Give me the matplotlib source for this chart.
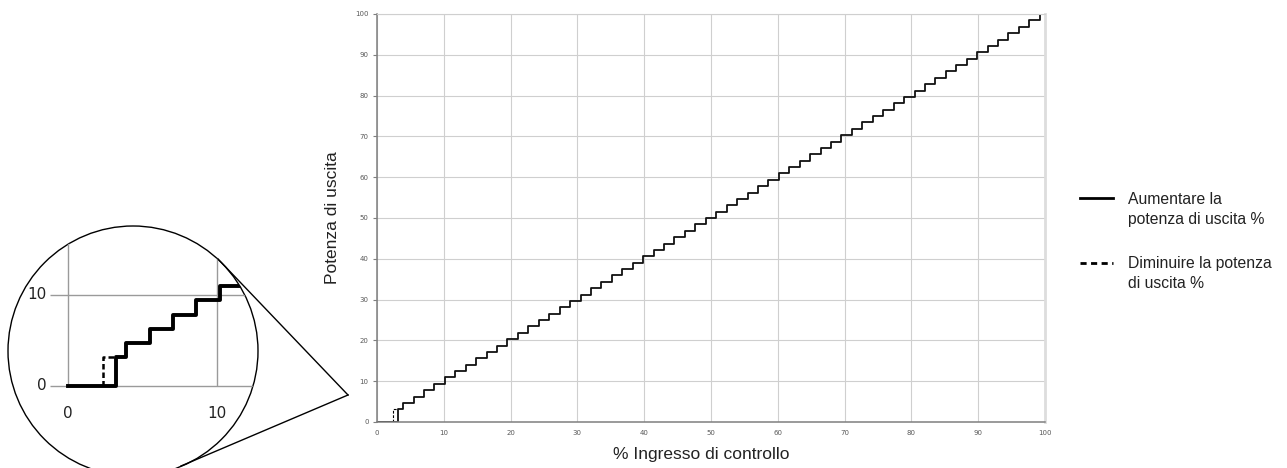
import matplotlib
matplotlib.use("Agg")
import matplotlib.pyplot as plt
from matplotlib.patches import Circle
from matplotlib.lines import Line2D

# output power steps while the control input rises (x = control input %, y = output %)
up_x = [0, 3.2, 3.91, 5.47, 7.03, 8.59, 10.16, 11.72, 13.28, 14.84, 16.41, 17.97,
        19.53, 21.09, 22.66, 24.22, 25.78, 27.34, 28.91, 30.47, 32.03, 33.59, 35.16,
        36.72, 38.28, 39.84, 41.41, 42.97, 44.53, 46.09, 47.66, 49.22, 50.78, 52.34,
        53.91, 55.47, 57.03, 58.59, 60.16, 61.72, 63.28, 64.84, 66.41, 67.97, 69.53,
        71.09, 72.66, 74.22, 75.78, 77.34, 78.91, 80.47, 82.03, 83.59, 85.16, 86.72,
        88.28, 89.84, 91.41, 92.97, 94.53, 96.09, 97.66, 99.22, 100]
up_y = [0, 3.13, 4.69, 6.25, 7.81, 9.38, 10.94, 12.50, 14.06, 15.63, 17.19, 18.75,
        20.31, 21.88, 23.44, 25.00, 26.56, 28.13, 29.69, 31.25, 32.81, 34.38, 35.94,
        37.50, 39.06, 40.63, 42.19, 43.75, 45.31, 46.88, 48.44, 50.00, 51.56, 53.13,
        54.69, 56.25, 57.81, 59.38, 60.94, 62.50, 64.06, 65.63, 67.19, 68.75, 70.31,
        71.88, 73.44, 75.00, 76.56, 78.13, 79.69, 81.25, 82.81, 84.38, 85.94, 87.50,
        89.06, 90.63, 92.19, 93.75, 95.31, 96.88, 98.44, 100, 100]
# switch-off point while the control input falls (hysteresis on the first step)
down_x = [2.34, 2.34, 3.2]
down_y = [0, 3.13, 3.13]

ticks_main = [0, 10, 20, 30, 40, 50, 60, 70, 80, 90, 100]
ticks_zoom = [0, 10]

W, H = 1287, 468
fig = plt.figure(figsize=(W / 100, H / 100), dpi=100)
plt.rcParams['font.family'] = ['Liberation Sans', 'DejaVu Sans']

grid_c = '#cfcfcf'
axis_c = '#7f7f7f'

# ---- main chart
ax = fig.add_axes([377 / W, 1 - 422 / H, 668 / W, 408 / H])
ax.set_xlim(0, 100)
ax.set_ylim(0, 100)
ax.set_xticks(ticks_main)
ax.set_yticks(ticks_main)
ax.grid(True, color=grid_c, lw=0.8)
ax.set_axisbelow(True)
for s in ['left', 'bottom']:
    ax.spines[s].set_color(axis_c)
    ax.spines[s].set_linewidth(1.1)
ax.spines['top'].set_color(grid_c)
ax.spines['top'].set_linewidth(0.8)
ax.spines['right'].set_color('#dddddd')
ax.spines['right'].set_linewidth(2)
ax.tick_params(axis='y', length=3, width=0.8, color=axis_c, pad=3,
               labelsize=5, labelcolor='#595959', labelfontfamily='DejaVu Sans')
ax.tick_params(axis='x', length=0, pad=6,
               labelsize=5, labelcolor='#595959', labelfontfamily='DejaVu Sans')

ax.plot(down_x, down_y, color='black', lw=0.8, ls=(0, (2.5, 1.5)))
ax.step(up_x, up_y, where='post', color='#111111', lw=1.3)

ax.set_ylabel('Potenza di uscita', fontsize=12.5, color='#222222')
ax.yaxis.set_label_coords(-0.056, 0.5)
ax.set_xlabel('% Ingresso di controllo', fontsize=12.5, color='#222222')
ax.xaxis.set_label_coords(0.485, -0.061)

# ---- magnified inset (circle)
cx, cy, r = 133, 351, 125
ax_in = fig.add_axes([(cx - r) / W, 1 - (cy + r) / H, 2 * r / W, 2 * r / H])
ax_in.set_xlim(-4.0, 12.73)
ax_in.set_ylim(-9.86, 17.52)
ax_in.axis('off')
clip = Circle((0.5, 0.5), 0.5, transform=ax_in.transAxes, facecolor='none')
ax_in.add_patch(clip)

arts = []
arts.append(ax_in.hlines(ticks_zoom, -1.2, 14, color='#9a9a9a', lw=1.0))
arts.append(ax_in.vlines(ticks_zoom, 0, 20, color='#9a9a9a', lw=1.0))
arts += ax_in.plot(down_x, down_y, color='black', lw=1.8, ls=(0, (2.2, 1.2)))
arts += ax_in.step(up_x, up_y, where='post', color='black', lw=2.8)
for a in arts:
    a.set_clip_path(clip)

for t in ticks_zoom:
    ax_in.text(t, -3.0, str(t), ha='center', va='center', fontsize=11,
               family='DejaVu Sans', color='#222222')
    ax_in.text(-1.4, t, str(t), ha='right', va='center', fontsize=11,
               family='DejaVu Sans', color='#222222')

ax_in.add_patch(Circle((0.5, 0.5), 0.5, transform=ax_in.transAxes,
                       facecolor='none', edgecolor='black', lw=1.0, clip_on=False))

# lens lines from the circle to the magnified spot
px, py = 348, 395
for sx, sy in [(218, 259), (181, 466)]:
    fig.add_artist(Line2D([sx / W, px / W], [1 - sy / H, 1 - py / H],
                          color='black', lw=1.0, transform=fig.transFigure))

# ---- legend
fig.add_artist(Line2D([1080 / W, 1113 / W], [1 - 198 / H, 1 - 198 / H],
                      color='black', lw=2, transform=fig.transFigure))
fig.add_artist(Line2D([1080 / W, 1113 / W], [1 - 263 / H, 1 - 263 / H],
                      color='black', lw=2, ls=(0, (2.2, 1.6)), transform=fig.transFigure))
fig.text(1128 / W, 1 - 192 / H, 'Aumentare la\npotenza di uscita %', fontsize=11.3,
         va='top', ha='left', color='#222222', linespacing=1.4)
fig.text(1128 / W, 1 - 256 / H, 'Diminuire la potenza\ndi uscita %', fontsize=11.3,
         va='top', ha='left', color='#222222', linespacing=1.4)

fig.savefig('out.png', dpi=100)
